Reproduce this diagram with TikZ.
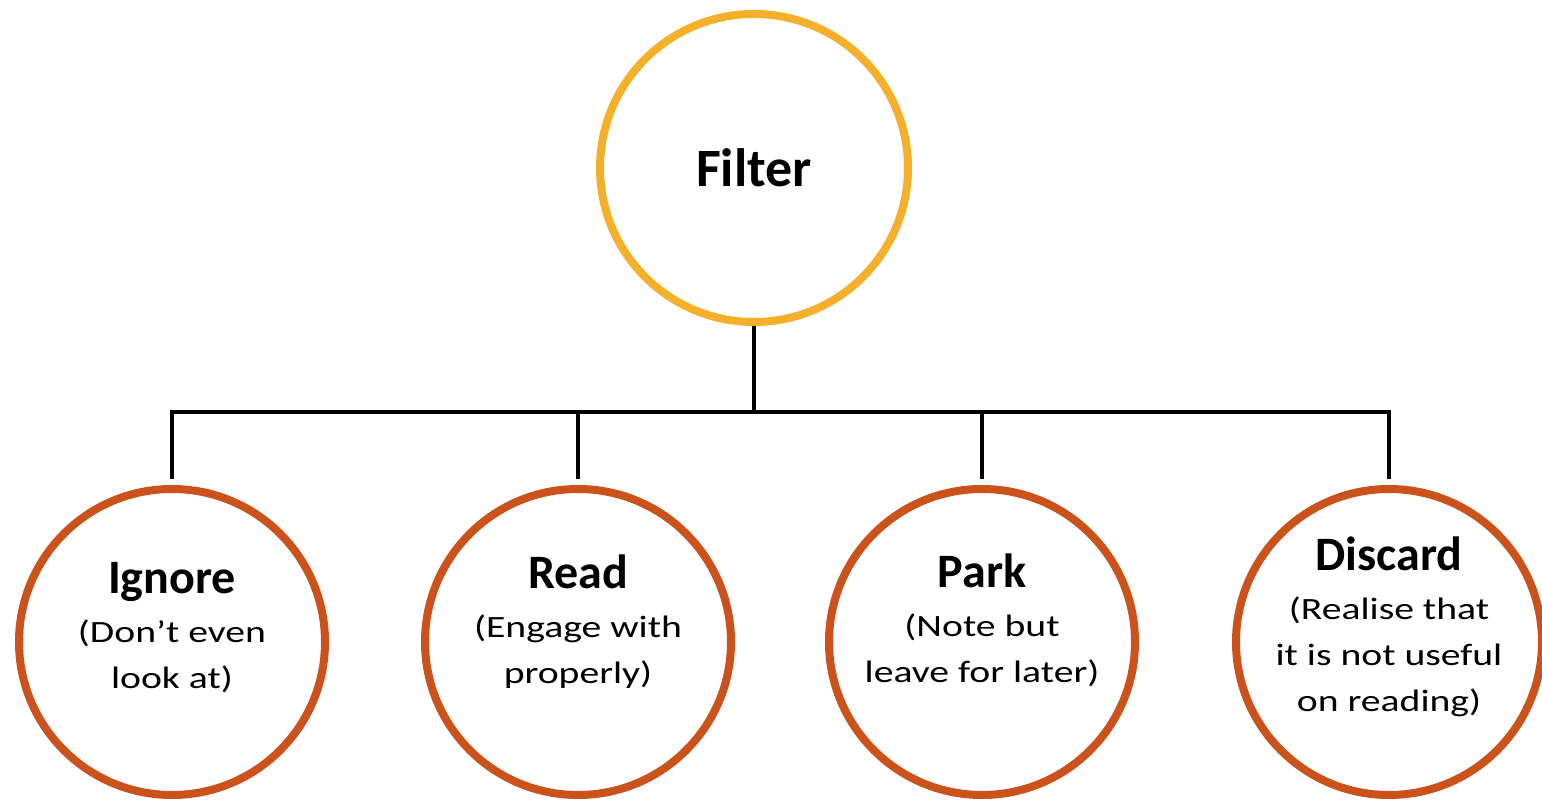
\documentclass[tikz,border=0pt]{standalone}
\usepackage{fontspec}
\setmainfont{Carlito}
\newfontfamily\notefont{Carlito}[FakeStretch=1.28]
\usepackage{xcolor}
\usetikzlibrary{positioning, calc}
\definecolor{filtergold}{HTML}{F5B02B}
\definecolor{leaforange}{HTML}{CB531B}

\begin{document}
\begin{tikzpicture}[x=1pt, y=1pt,
    filterbox/.style={circle, draw=filtergold, line width=8pt, minimum size=308pt, inner sep=0pt, font=\fontsize{54}{60}\selectfont\bfseries},
    leaf/.style={circle, draw=leaforange, line width=8pt, minimum size=306pt, inner sep=0pt},
    leaftext/.style={align=center, font=\fontsize{31}{46}\selectfont\notefont},
    link/.style={line width=4pt, black}]
    \useasboundingbox (0,0) rectangle (1542,800);

    % Top circle
    \node[filterbox] (filter) at (754,632) {Filter};
    \coordinate (bus) at (754,388);

    % Four outcomes
    \node[leaf] (ignore) at (172,158) {};
    \node[leaf] (read) at (578,158) {};
    \node[leaf] (park) at (982,158) {};
    \node[leaf] (discard) at (1389,158) {};

    \node[leaftext] (ignoretxt) at ($(ignore)+(0,14)$) {{\fontsize{48}{48}\selectfont\bfseries\rmfamily Ignore}\\[3pt] (Don’t even\\look at)};
    \node[leaftext] (readtxt) at ($(read)+(0,20)$) {{\fontsize{48}{48}\selectfont\bfseries\rmfamily Read}\\[3pt] (Engage with\\properly)};
    \node[leaftext] (parktxt) at ($(park)+(0,22)$) {{\fontsize{48}{48}\selectfont\bfseries\rmfamily Park}\\[3pt] (Note but\\leave for later)};
    \node[leaftext] (discardtxt) at ($(discard)+(0,15)$) {{\fontsize{48}{48}\selectfont\bfseries\rmfamily Discard}\\[3pt] (Realise that\\it is not useful\\on reading)};

    % Connectors
    \draw[link] (filter.south) -- (bus);
    \draw[link] ([yshift=6pt]ignore.north) |- (bus) -| ([yshift=6pt]discard.north);
    \draw[link] ([yshift=6pt]read.north) -- (read.north |- bus);
    \draw[link] ([yshift=6pt]park.north) -- (park.north |- bus);
\end{tikzpicture}
\end{document}
